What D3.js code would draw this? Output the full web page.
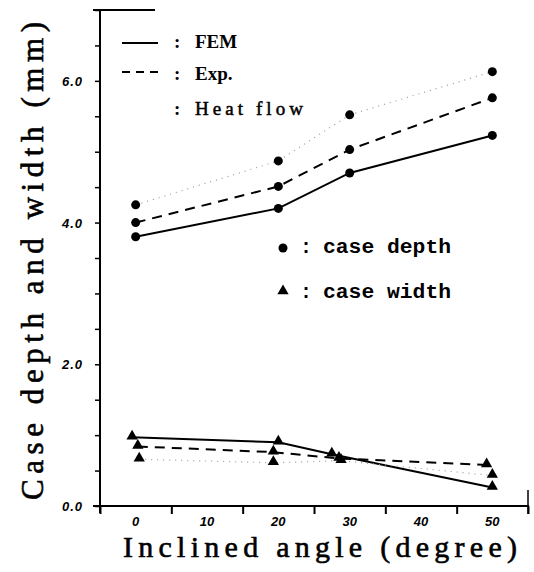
<!DOCTYPE html>
<html>
<head>
<meta charset="utf-8">
<script src="https://cdn.jsdelivr.net/npm/d3@7"></script>
<style>
  body { margin: 0; background: #fff; }
  svg { display: block; }
</style>
</head>
<body>
<div id="chart"></div>
<script>
// case depth (circles)
const depthAngles = [0, 20, 30, 50];
const depthFEM = [3.80, 4.20, 4.70, 5.23];
const depthExp = [4.00, 4.51, 5.03, 5.76];
const depthHeat = [4.25, 4.87, 5.52, 6.13];

// case width (triangles)
const widthFEMAngles = [-0.5, 20, 27.5, 50];
const widthFEM = [0.97, 0.90, 0.73, 0.26];
const widthExpAngles = [0.3, 19.3, 28.5, 49.2];
const widthExp = [0.84, 0.76, 0.67, 0.58];
const widthHeatAngles = [0.5, 19.3, 28.8, 50];
const widthHeat = [0.66, 0.61, 0.64, 0.43];

const xTickMarks = [-5, 5, 15, 25, 35, 45, 55];
const xTickLabels = [0, 10, 20, 30, 40, 50];
const yTickMarks = d3.range(0, 7.01, 0.5);
const yTickLabels = [0, 2, 4, 6];

const margin = { top: 10, right: 6, bottom: 66, left: 100 };
const width = 534 - margin.left - margin.right;
const height = 572 - margin.top - margin.bottom;

const svg = d3.select("#chart")
  .append("svg")
  .attr("width", 534)
  .attr("height", 572)
  .append("g")
  .attr("transform", `translate(${margin.left},${margin.top})`);

const x = d3.scaleLinear().domain([-5, 55]).range([0, width]);
const y = d3.scaleLinear().domain([0, 7]).range([height, 0]);

// axes
const xAxis = svg.append("g")
  .attr("transform", `translate(0,${height})`)
  .call(d3.axisBottom(x).tickValues(xTickMarks).tickSize(8).tickFormat(""));
xAxis.select(".domain").remove();
xAxis.selectAll("line").attr("stroke-width", 2);
svg.append("line")
  .attr("x1", -7).attr("x2", width + 1)
  .attr("y1", height).attr("y2", height)
  .attr("stroke", "#000").attr("stroke-width", 2);
svg.append("line")
  .attr("x1", width).attr("x2", width)
  .attr("y1", height - 16).attr("y2", height + 8)
  .attr("stroke", "#000").attr("stroke-width", 1.5);

const yAxis = svg.append("g")
  .call(d3.axisLeft(y).tickValues(yTickMarks).tickSize(5).tickFormat(""));
yAxis.select(".domain").remove();
yAxis.selectAll("line").attr("stroke-width", 1.5);
svg.append("line")
  .attr("x1", 0).attr("x2", 0)
  .attr("y1", 0).attr("y2", height + 7)
  .attr("stroke", "#000").attr("stroke-width", 2);
svg.append("line")
  .attr("x1", -7).attr("x2", 55)
  .attr("y1", 0).attr("y2", 0)
  .attr("stroke", "#000").attr("stroke-width", 2);

svg.append("g").selectAll("text")
  .data(xTickLabels)
  .join("text")
  .attr("x", d => x(d))
  .attr("y", height + 20)
  .attr("text-anchor", "middle")
  .style("font", "italic bold 13px 'Liberation Sans', Arial, sans-serif")
  .text(d => d);

svg.append("g").selectAll("text")
  .data(yTickLabels)
  .join("text")
  .attr("x", -17)
  .attr("y", d => y(d) + 5)
  .attr("text-anchor", "end")
  .style("font", "italic bold 13px 'Liberation Sans', Arial, sans-serif")
  .style("letter-spacing", "1px")
  .text(d => d3.format(".1f")(d));

// axis titles
svg.append("text")
  .attr("x", 23)
  .attr("y", height + 51)
  .attr("textLength", 394)
  .attr("lengthAdjust", "spacing")
  .style("font", "30px 'Liberation Serif', 'DejaVu Serif', serif")
  .style("stroke", "#000").style("stroke-width", 0.6)
  .text("Inclined angle (degree)");

svg.append("text")
  .attr("transform", `translate(-57,${height - 6}) rotate(-90)`)
  .attr("textLength", 478)
  .attr("lengthAdjust", "spacing")
  .style("font", "31px 'Liberation Serif', 'DejaVu Serif', serif")
  .style("stroke", "#000").style("stroke-width", 0.6)
  .text("Case depth and width (mm)");

// series
const series = [
  { ax: depthAngles, v: depthFEM, kind: "fem", mark: "circle" },
  { ax: depthAngles, v: depthExp, kind: "exp", mark: "circle" },
  { ax: depthAngles, v: depthHeat, kind: "heat", mark: "circle" },
  { ax: widthFEMAngles, v: widthFEM, kind: "fem", mark: "tri" },
  { ax: widthExpAngles, v: widthExp, kind: "exp", mark: "tri" },
  { ax: widthHeatAngles, v: widthHeat, kind: "heat", mark: "tri" }
];

const line = d3.line().x(d => x(d[0])).y(d => y(d[1]));
const tri = d3.symbol().type(d3.symbolTriangle).size(55);

series.forEach(s => {
  const pts = s.ax.map((a, i) => [a, s.v[i]]);
  const path = svg.append("path")
    .datum(pts)
    .attr("d", line)
    .attr("fill", "none");
  if (s.kind === "fem") {
    path.attr("stroke", "#000").attr("stroke-width", 2);
  } else if (s.kind === "exp") {
    path.attr("stroke", "#000").attr("stroke-width", 2).attr("stroke-dasharray", "10,7");
  } else {
    path.attr("stroke", "#999").attr("stroke-width", 1.2).attr("stroke-dasharray", "1,5");
  }
  if (s.mark === "circle") {
    svg.append("g").selectAll("circle")
      .data(pts)
      .join("circle")
      .attr("cx", d => x(d[0]))
      .attr("cy", d => y(d[1]))
      .attr("r", 4.5)
      .attr("fill", "#000");
  } else {
    svg.append("g").selectAll("path")
      .data(pts)
      .join("path")
      .attr("d", tri)
      .attr("transform", d => `translate(${x(d[0])},${y(d[1]) - 1})`)
      .attr("fill", "#000");
  }
});

// line style legend
const legFont = "bold 19px 'Liberation Serif', 'DejaVu Serif', serif";
const lg = svg.append("g");
lg.append("line").attr("x1", 22).attr("x2", 58).attr("y1", 33).attr("y2", 33)
  .attr("stroke", "#000").attr("stroke-width", 2);
lg.append("line").attr("x1", 22).attr("x2", 58).attr("y1", 62).attr("y2", 62)
  .attr("stroke", "#000").attr("stroke-width", 2).attr("stroke-dasharray", "8,6");
[["FEM", 38, null], ["Exp.", 70, null], ["Heat flow", 105, 108]].forEach(([t, yy, len]) => {
  lg.append("text").attr("x", 74).attr("y", yy)
    .style("font", legFont).text(":");
  const tx = lg.append("text").attr("x", 95).attr("y", yy)
    .style("font", legFont).text(t);
  if (len) tx.attr("textLength", len).attr("lengthAdjust", "spacing").style("font-weight", "normal")
    .style("stroke", "#000").style("stroke-width", 0.5);
});

// marker legend
const mono = "bold 20px 'Liberation Mono', 'DejaVu Sans Mono', monospace";
const mg = svg.append("g");
mg.append("circle").attr("cx", 183).attr("cy", 238).attr("r", 4.5).attr("fill", "#000");
mg.append("path").attr("d", tri).attr("transform", "translate(183,281)").attr("fill", "#000");
[["case depth", 243], ["case width", 288]].forEach(([t, yy]) => {
  mg.append("text").attr("x", 200).attr("y", yy).style("font", mono).text(":");
  mg.append("text").attr("x", 223).attr("y", yy)
    .attr("textLength", 128).attr("lengthAdjust", "spacingAndGlyphs")
    .style("font", mono).text(t);
});
</script>
</body>
</html>
